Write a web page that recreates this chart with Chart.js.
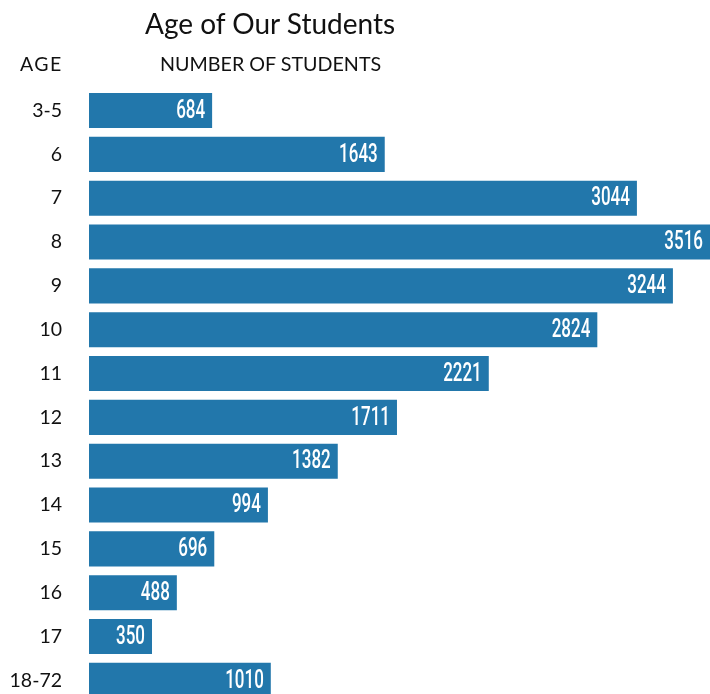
<!DOCTYPE html>
<html>
<head>
<meta charset="utf-8">
<script src="https://cdn.jsdelivr.net/npm/chart.js@4"></script>
<style>
  html, body { margin: 0; padding: 0; background: #fff; overflow: hidden; }
  #wrap { position: relative; width: 710px; height: 741px; }
  .txt { position: absolute; font-family: Lato, "Noto Sans", sans-serif; color: #111; white-space: nowrap; }
  #title { left: 145px; top: 6px; font-size: 28px; }
  #agehead { left: 20px; top: 52px; font-size: 19.5px; letter-spacing: 1.4px; }
  #numhead { left: 160px; top: 52px; font-size: 19.7px; }
</style>
</head>
<body>
<div id="wrap">
  <canvas id="chart" width="710" height="741"></canvas>
  <div class="txt" id="title">Age of Our Students</div>
  <div class="txt" id="agehead">AGE</div>
  <div class="txt" id="numhead">NUMBER OF STUDENTS</div>
</div>
<script>
// data
var ages = ['3-5', '6', '7', '8', '9', '10', '11', '12', '13', '14', '15', '16', '17', '18-72']
var students = [684, 1643, 3044, 3516, 3244, 2824, 2221, 1711, 1382, 994, 696, 488, 350, 1010]

var barColor = '#2277ab'

// white count written inside the end of each bar
var valueLabels = {
    id: 'valueLabels',
    afterDatasetsDraw: function(chart) {
        var ctx = chart.ctx
        var meta = chart.getDatasetMeta(0)
        ctx.save()
        ctx.fillStyle = '#fff'
        ctx.font = '500 25px Roboto, "DejaVu Sans", sans-serif'
        ctx.textAlign = 'right'
        ctx.textBaseline = 'middle'
        meta.data.forEach(function(bar, i) {
            var x = Math.min(bar.x, chart.chartArea.right) - 7
            ctx.save()
            ctx.translate(x, bar.y + 1)
            ctx.scale(0.68, 1)
            ctx.fillText(String(chart.data.datasets[0].data[i]), 0, 0)
            ctx.restore()
        })
        ctx.restore()
    }
}

var ctx = document.getElementById('chart').getContext('2d')
new Chart(ctx, {
    type: 'bar',
    data: {
        labels: ages,
        datasets: [{
            data: students,
            backgroundColor: barColor,
            borderWidth: 0,
            barPercentage: 0.8,
            categoryPercentage: 1
        }]
    },
    options: {
        indexAxis: 'y',
        responsive: false,
        animation: false,
        layout: {padding: {top: 88.6, bottom: 0, left: 0, right: 0}},
        plugins: {
            legend: {display: false},
            title: {display: false},
            tooltip: {enabled: false}
        },
        scales: {
            x: {
                display: false,
                min: 0,
                max: 3450
            },
            y: {
                grid: {display: false, drawTicks: false},
                border: {display: false},
                afterFit: function(scale) { scale.width = 89 },
                ticks: {
                    padding: 27,
                    color: '#111',
                    font: {family: 'Lato, "Noto Sans", sans-serif', size: 19.5}
                }
            }
        }
    },
    plugins: [valueLabels]
});
</script>
</body>
</html>
